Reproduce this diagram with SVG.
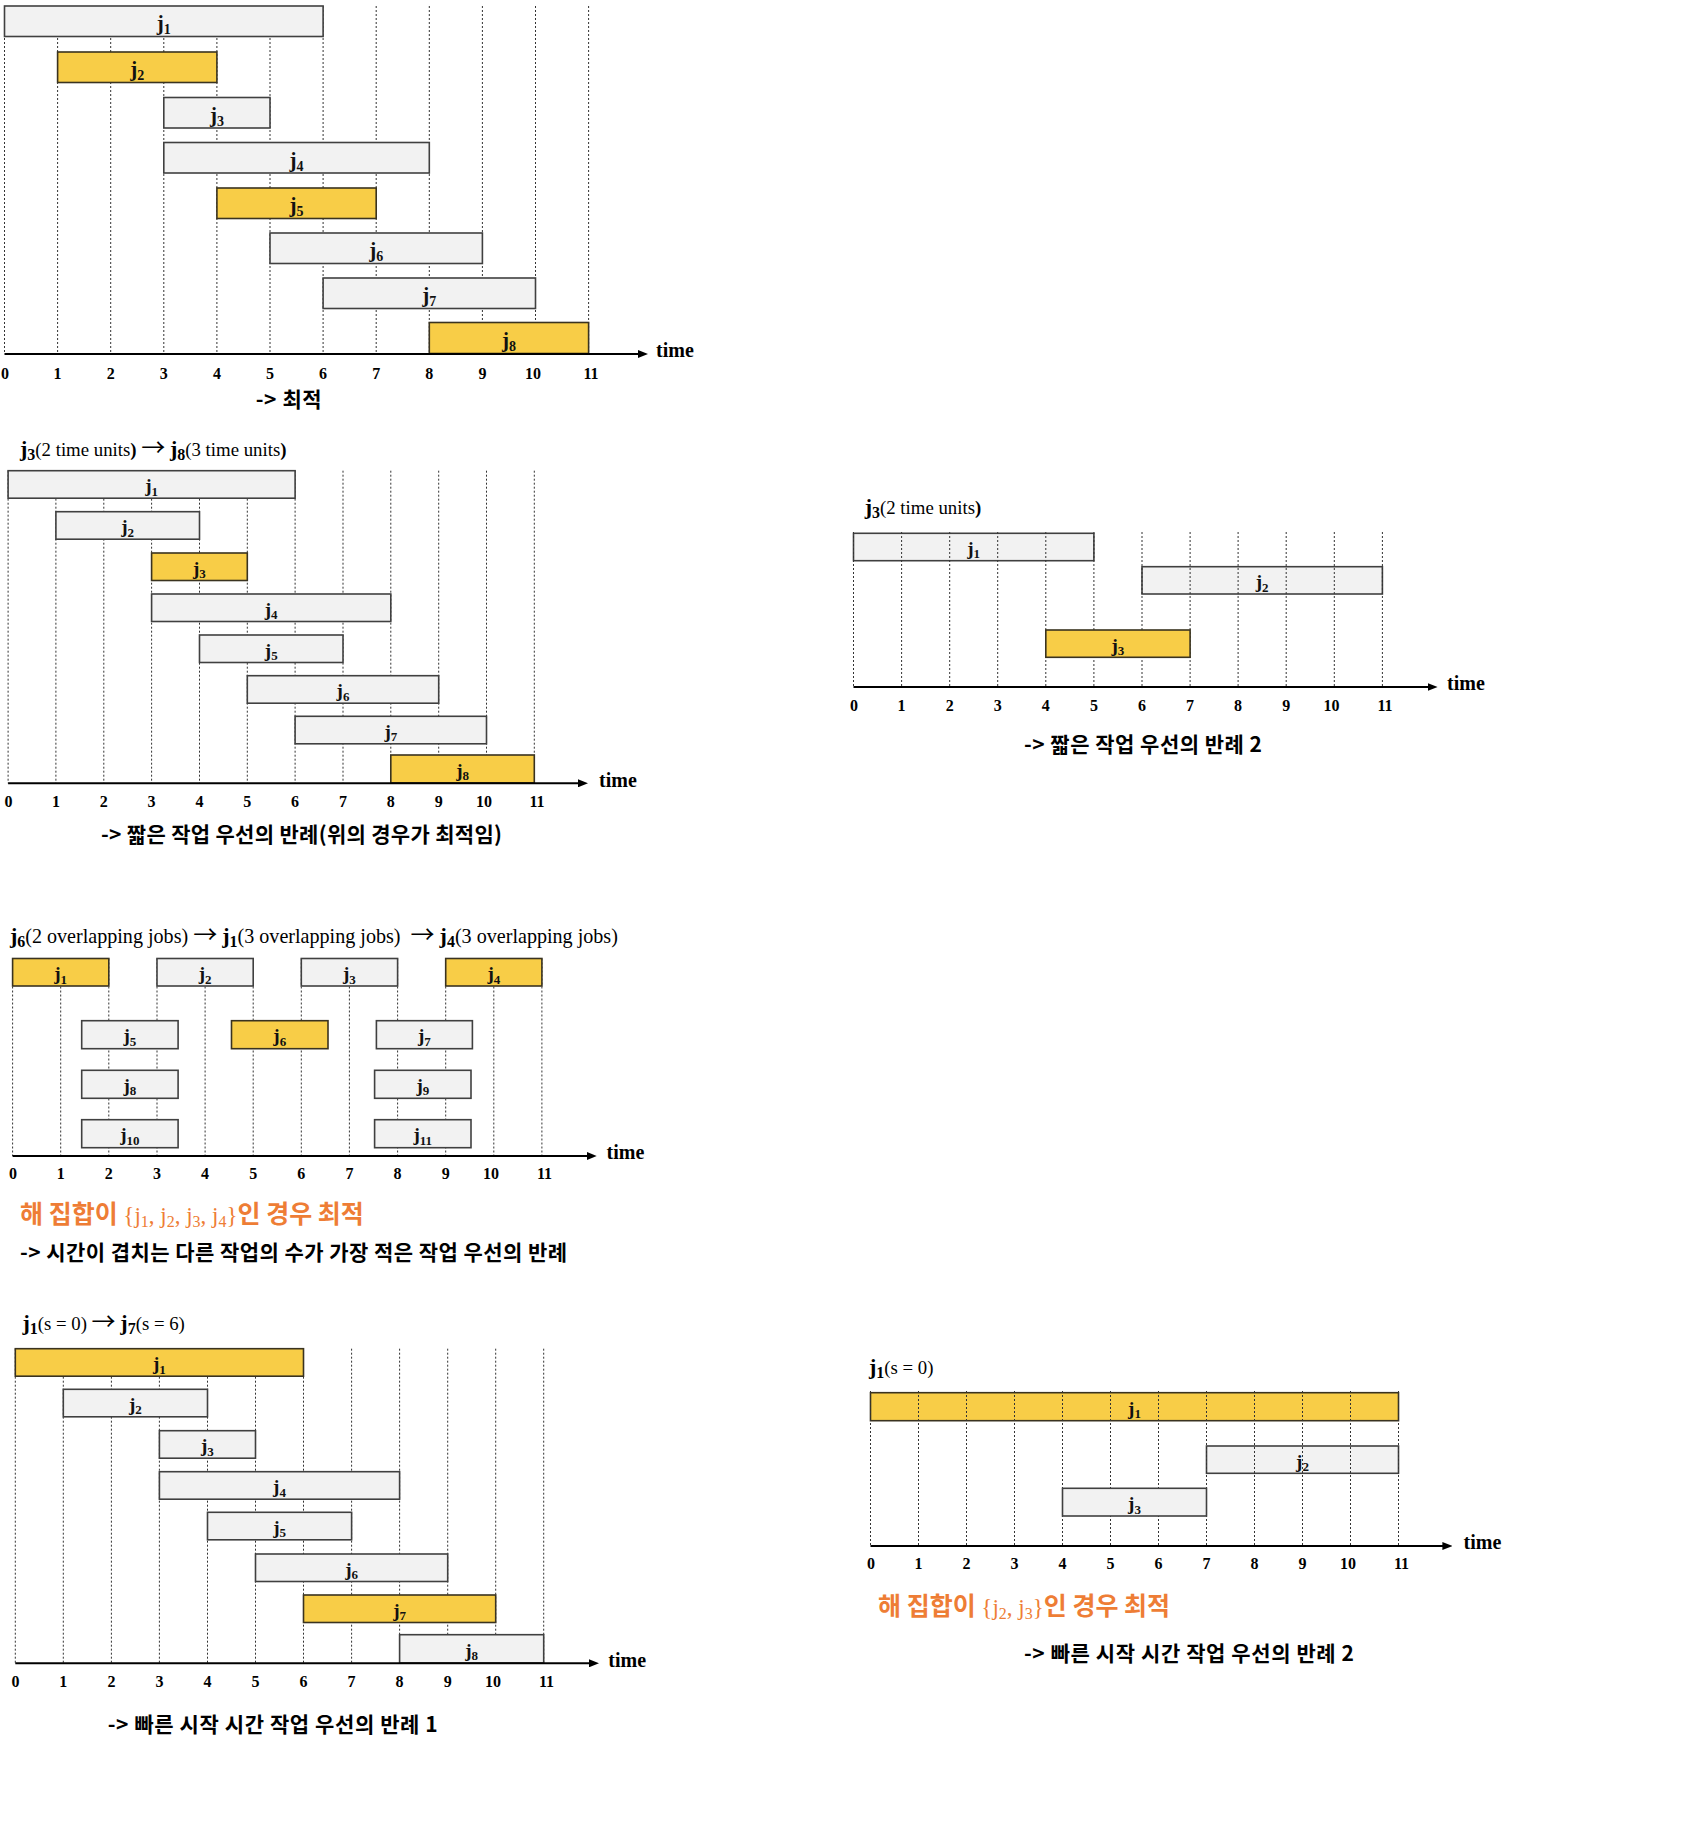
<svg xmlns="http://www.w3.org/2000/svg" width="1700" height="1848" viewBox="0 0 1700 1848">
<defs>
<marker id="arr" viewBox="0 0 10 8" refX="6" refY="4" markerWidth="10" markerHeight="8" markerUnits="userSpaceOnUse" orient="auto"><path d="M0,0 L10,4 L0,8 z" fill="#000"/></marker>
</defs>
<style>
.g{fill:#f2f2f2;stroke:#404040;stroke-width:1.6}
.y{fill:#f8cd47;stroke:#3a3320;stroke-width:1.6}
.grid line{stroke:#333;stroke-width:1;stroke-dasharray:2 2}
.axis{stroke:#000;stroke-width:2;marker-end:url(#arr)}
.jl{font-family:"Liberation Serif",serif;font-weight:bold;font-size:19px;text-anchor:middle;fill:#111}
.jl .s{font-size:13px}
.big{font-size:21px}
.big .s{font-size:14px}
.tk{font-family:"Liberation Serif",serif;font-weight:bold;font-size:16px;text-anchor:middle;fill:#000}
.time{font-family:"Liberation Serif",serif;font-weight:bold;font-size:20px;fill:#000}
.ttl{font-family:"Liberation Serif",serif;font-size:18.8px;fill:#000}
.ttl .b{font-weight:bold;font-size:22px}
.ttl .bs{font-weight:bold;font-size:16px}
.ttl .bp{font-weight:bold}
.ttl .ar{font-family:"Noto Sans CJK KR","DejaVu Sans",sans-serif;font-size:24px}
.ko{font-family:"Noto Sans CJK KR","Noto Sans",sans-serif;font-weight:bold;font-size:21px;fill:#000}
.or{fill:#ee7d35;font-size:25px}
.ser{font-family:"Liberation Serif",serif;font-weight:normal;font-size:23px}
.ser .ss{font-size:16px}
</style>
<rect width="1700" height="1848" fill="#fff"/>

<!-- Chart 1 -->
<g id="chart1">
<g class="grid">
<line x1="4.5" y1="6" x2="4.5" y2="354"/><line x1="57.6" y1="6" x2="57.6" y2="354"/><line x1="110.7" y1="6" x2="110.7" y2="354"/><line x1="163.8" y1="6" x2="163.8" y2="354"/><line x1="216.9" y1="6" x2="216.9" y2="354"/><line x1="270" y1="6" x2="270" y2="354"/><line x1="323.1" y1="6" x2="323.1" y2="354"/><line x1="376.2" y1="6" x2="376.2" y2="354"/><line x1="429.3" y1="6" x2="429.3" y2="354"/><line x1="482.4" y1="6" x2="482.4" y2="354"/><line x1="535.5" y1="6" x2="535.5" y2="354"/><line x1="588.6" y1="6" x2="588.6" y2="354"/>
</g>
<g id="c1-j1"><rect class="g" x="4.5" y="6" width="318.6" height="30.5"/><text class="jl big" x="163.8" y="30">j<tspan class="s" dy="4">1</tspan></text></g>
<g id="c1-j2"><rect class="y" x="57.6" y="52" width="159.3" height="30.5"/><text class="jl big" x="137.25" y="76">j<tspan class="s" dy="4">2</tspan></text></g>
<g id="c1-j3"><rect class="g" x="163.8" y="97.5" width="106.2" height="30.5"/><text class="jl big" x="216.9" y="121.5">j<tspan class="s" dy="4">3</tspan></text></g>
<g id="c1-j4"><rect class="g" x="163.8" y="142.5" width="265.5" height="30.5"/><text class="jl big" x="296.55" y="166.5">j<tspan class="s" dy="4">4</tspan></text></g>
<g id="c1-j5"><rect class="y" x="216.9" y="188" width="159.3" height="30.5"/><text class="jl big" x="296.55" y="212">j<tspan class="s" dy="4">5</tspan></text></g>
<g id="c1-j6"><rect class="g" x="270" y="233" width="212.4" height="30.5"/><text class="jl big" x="376.2" y="257">j<tspan class="s" dy="4">6</tspan></text></g>
<g id="c1-j7"><rect class="g" x="323.1" y="278" width="212.4" height="30.5"/><text class="jl big" x="429.3" y="302">j<tspan class="s" dy="4">7</tspan></text></g>
<g id="c1-j8"><rect class="y" x="429.3" y="322.5" width="159.3" height="31"/><text class="jl big" x="508.95" y="347">j<tspan class="s" dy="4">8</tspan></text></g>
<line class="axis" x1="4.5" y1="354" x2="644" y2="354"/>
<text class="time" x="656" y="357">time</text>
<g class="tk"><text x="5" y="379">0</text><text x="57.6" y="379">1</text><text x="110.7" y="379">2</text><text x="163.8" y="379">3</text><text x="216.9" y="379">4</text><text x="270" y="379">5</text><text x="323.1" y="379">6</text><text x="376.2" y="379">7</text><text x="429.3" y="379">8</text><text x="482.4" y="379">9</text><text x="533" y="379">10</text><text x="591" y="379">11</text></g>
<text class="ko" x="255.7" y="407" textLength="66" lengthAdjust="spacing">-&gt; 최적</text>
</g>

<!-- Chart 2 -->
<g id="chart2">
<text class="ttl" x="20" y="456"><tspan class="b">j</tspan><tspan class="bs" dy="4">3</tspan><tspan dy="-4">(2 time units</tspan><tspan class="bp">)</tspan> <tspan class="ar">→</tspan> <tspan class="b">j</tspan><tspan class="bs" dy="4">8</tspan><tspan dy="-4">(3 time units</tspan><tspan class="bp">)</tspan></text>
<g class="grid">
<line x1="8.1" y1="470.7" x2="8.1" y2="783.3"/><line x1="55.9" y1="470.7" x2="55.9" y2="783.3"/><line x1="103.8" y1="470.7" x2="103.8" y2="783.3"/><line x1="151.6" y1="470.7" x2="151.6" y2="783.3"/><line x1="199.5" y1="470.7" x2="199.5" y2="783.3"/><line x1="247.3" y1="470.7" x2="247.3" y2="783.3"/><line x1="295.1" y1="470.7" x2="295.1" y2="783.3"/><line x1="343" y1="470.7" x2="343" y2="783.3"/><line x1="390.8" y1="470.7" x2="390.8" y2="783.3"/><line x1="438.7" y1="470.7" x2="438.7" y2="783.3"/><line x1="486.5" y1="470.7" x2="486.5" y2="783.3"/><line x1="534.3" y1="470.7" x2="534.3" y2="783.3"/>
</g>
<g id="c2-j1"><rect class="g" x="8.1" y="470.7" width="287" height="27.5"/><text class="jl" x="151.6" y="492.2">j<tspan class="s" dy="3.5">1</tspan></text></g>
<g id="c2-j2"><rect class="g" x="55.9" y="511.7" width="143.6" height="27.5"/><text class="jl" x="127.7" y="533.2">j<tspan class="s" dy="3.5">2</tspan></text></g>
<g id="c2-j3"><rect class="y" x="151.6" y="553" width="95.7" height="27.5"/><text class="jl" x="199.45" y="574.5">j<tspan class="s" dy="3.5">3</tspan></text></g>
<g id="c2-j4"><rect class="g" x="151.6" y="594" width="239.2" height="27.5"/><text class="jl" x="271.2" y="615.5">j<tspan class="s" dy="3.5">4</tspan></text></g>
<g id="c2-j5"><rect class="g" x="199.5" y="635" width="143.5" height="27.5"/><text class="jl" x="271.25" y="656.5">j<tspan class="s" dy="3.5">5</tspan></text></g>
<g id="c2-j6"><rect class="g" x="247.3" y="675.7" width="191.4" height="27.5"/><text class="jl" x="343" y="697.2">j<tspan class="s" dy="3.5">6</tspan></text></g>
<g id="c2-j7"><rect class="g" x="295.1" y="716.3" width="191.4" height="27.5"/><text class="jl" x="390.8" y="737.8">j<tspan class="s" dy="3.5">7</tspan></text></g>
<g id="c2-j8"><rect class="y" x="390.8" y="755" width="143.5" height="28"/><text class="jl" x="462.55" y="776.5">j<tspan class="s" dy="3.5">8</tspan></text></g>
<line class="axis" x1="8.1" y1="783.3" x2="584" y2="783.3"/>
<text class="time" x="599" y="787">time</text>
<g class="tk"><text x="8.5" y="806.5">0</text><text x="55.9" y="806.5">1</text><text x="103.8" y="806.5">2</text><text x="151.6" y="806.5">3</text><text x="199.5" y="806.5">4</text><text x="247.3" y="806.5">5</text><text x="295.1" y="806.5">6</text><text x="343" y="806.5">7</text><text x="390.8" y="806.5">8</text><text x="438.7" y="806.5">9</text><text x="484" y="806.5">10</text><text x="537" y="806.5">11</text></g>
<text class="ko" x="101" y="842" textLength="401" lengthAdjust="spacing">-&gt; 짧은 작업 우선의 반례(위의 경우가 최적임)</text>
</g>

<!-- Chart 3 -->
<g id="chart3">
<text class="ttl" x="864.7" y="514"><tspan class="b">j</tspan><tspan class="bs" dy="4">3</tspan><tspan dy="-4">(2 time units</tspan><tspan class="bp">)</tspan></text>
<g id="c3-j1"><rect class="g" x="853.5" y="533.3" width="240.4" height="27.4"/><text class="jl" x="973.7" y="554.8">j<tspan class="s" dy="3.5">1</tspan></text></g>
<g id="c3-j2"><rect class="g" x="1142" y="566.7" width="240.4" height="27.3"/><text class="jl" x="1262.2" y="588.2">j<tspan class="s" dy="3.5">2</tspan></text></g>
<g class="grid">
<line x1="853.5" y1="532" x2="853.5" y2="687"/><line x1="901.6" y1="532" x2="901.6" y2="687"/><line x1="949.7" y1="532" x2="949.7" y2="687"/><line x1="997.7" y1="532" x2="997.7" y2="687"/><line x1="1045.8" y1="532" x2="1045.8" y2="687"/><line x1="1093.9" y1="532" x2="1093.9" y2="687"/><line x1="1142" y1="532" x2="1142" y2="687"/><line x1="1190.1" y1="532" x2="1190.1" y2="687"/><line x1="1238.1" y1="532" x2="1238.1" y2="687"/><line x1="1286.2" y1="532" x2="1286.2" y2="687"/><line x1="1334.3" y1="532" x2="1334.3" y2="687"/><line x1="1382.4" y1="532" x2="1382.4" y2="687"/>
</g>
<g id="c3-j3"><rect class="y" x="1045.8" y="630" width="144.3" height="27.3"/><text class="jl" x="1117.95" y="651.5">j<tspan class="s" dy="3.5">3</tspan></text></g>
<line class="axis" x1="853.5" y1="687" x2="1433.6" y2="687"/>
<text class="time" x="1447" y="690">time</text>
<g class="tk"><text x="854" y="710.5">0</text><text x="901.6" y="710.5">1</text><text x="949.7" y="710.5">2</text><text x="997.7" y="710.5">3</text><text x="1045.8" y="710.5">4</text><text x="1093.9" y="710.5">5</text><text x="1142" y="710.5">6</text><text x="1190.1" y="710.5">7</text><text x="1238.1" y="710.5">8</text><text x="1286.2" y="710.5">9</text><text x="1331.5" y="710.5">10</text><text x="1385" y="710.5">11</text></g>
<text class="ko" x="1024" y="752" textLength="238" lengthAdjust="spacing">-&gt; 짧은 작업 우선의 반례 2</text>
</g>

<!-- Chart 4 -->
<g id="chart4">
<text class="ttl" x="9.9" y="943" style="font-size:20.1px"><tspan class="b">j</tspan><tspan class="bs" dy="4">6</tspan><tspan dy="-4">(2 overlapping jobs) </tspan><tspan class="ar">→</tspan><tspan> </tspan><tspan class="b">j</tspan><tspan class="bs" dy="4">1</tspan><tspan dy="-4">(3 overlapping jobs)&#160; </tspan><tspan class="ar">→</tspan><tspan> </tspan><tspan class="b">j</tspan><tspan class="bs" dy="4">4</tspan><tspan dy="-4">(3 overlapping jobs)</tspan></text>
<g class="grid">
<line x1="12.6" y1="958.5" x2="12.6" y2="1156"/><line x1="60.7" y1="958.5" x2="60.7" y2="1156"/><line x1="108.8" y1="958.5" x2="108.8" y2="1156"/><line x1="157" y1="958.5" x2="157" y2="1156"/><line x1="205.1" y1="958.5" x2="205.1" y2="1156"/><line x1="253.2" y1="958.5" x2="253.2" y2="1156"/><line x1="301.3" y1="958.5" x2="301.3" y2="1156"/><line x1="349.4" y1="958.5" x2="349.4" y2="1156"/><line x1="397.6" y1="958.5" x2="397.6" y2="1156"/><line x1="445.7" y1="958.5" x2="445.7" y2="1156"/><line x1="493.8" y1="958.5" x2="493.8" y2="1156"/><line x1="541.9" y1="958.5" x2="541.9" y2="1156"/>
</g>
<g id="c4-j1"><rect class="y" x="12.6" y="958.5" width="96.2" height="27.5"/><text class="jl" x="60.7" y="980">j<tspan class="s" dy="3.5">1</tspan></text></g>
<g id="c4-j2"><rect class="g" x="157" y="958.5" width="96.2" height="27.5"/><text class="jl" x="205.1" y="980">j<tspan class="s" dy="3.5">2</tspan></text></g>
<g id="c4-j3"><rect class="g" x="301.3" y="958.5" width="96.3" height="27.5"/><text class="jl" x="349.45" y="980">j<tspan class="s" dy="3.5">3</tspan></text></g>
<g id="c4-j4"><rect class="y" x="445.7" y="958.5" width="96.2" height="27.5"/><text class="jl" x="493.8" y="980">j<tspan class="s" dy="3.5">4</tspan></text></g>
<g id="c4-j5"><rect class="g" x="81.7" y="1020.7" width="96.4" height="28"/><text class="jl" x="129.9" y="1042.2">j<tspan class="s" dy="3.5">5</tspan></text></g>
<g id="c4-j6"><rect class="y" x="231.5" y="1020.7" width="96.5" height="28"/><text class="jl" x="279.75" y="1042.2">j<tspan class="s" dy="3.5">6</tspan></text></g>
<g id="c4-j7"><rect class="g" x="376.4" y="1020.7" width="96" height="28"/><text class="jl" x="424.4" y="1042.2">j<tspan class="s" dy="3.5">7</tspan></text></g>
<g id="c4-j8"><rect class="g" x="81.7" y="1070.3" width="96.4" height="28"/><text class="jl" x="129.9" y="1091.8">j<tspan class="s" dy="3.5">8</tspan></text></g>
<g id="c4-j9"><rect class="g" x="374.6" y="1070.3" width="96.4" height="28"/><text class="jl" x="422.8" y="1091.8">j<tspan class="s" dy="3.5">9</tspan></text></g>
<g id="c4-j10"><rect class="g" x="81.7" y="1119.7" width="96.4" height="28"/><text class="jl" x="129.9" y="1141.2">j<tspan class="s" dy="3.5">10</tspan></text></g>
<g id="c4-j11"><rect class="g" x="374.6" y="1119.7" width="96.4" height="28"/><text class="jl" x="422.8" y="1141.2">j<tspan class="s" dy="3.5">11</tspan></text></g>
<line class="axis" x1="12.6" y1="1156" x2="592.7" y2="1156"/>
<text class="time" x="606.5" y="1159">time</text>
<g class="tk"><text x="13" y="1179">0</text><text x="60.7" y="1179">1</text><text x="108.8" y="1179">2</text><text x="157" y="1179">3</text><text x="205.1" y="1179">4</text><text x="253.2" y="1179">5</text><text x="301.3" y="1179">6</text><text x="349.4" y="1179">7</text><text x="397.6" y="1179">8</text><text x="445.7" y="1179">9</text><text x="491" y="1179">10</text><text x="544.5" y="1179">11</text></g>
<text class="ko or" x="20" y="1223">해 집합이 <tspan class="ser">{j<tspan class="ss" dy="4">1</tspan><tspan dy="-4">, j</tspan><tspan class="ss" dy="4">2</tspan><tspan dy="-4">, j</tspan><tspan class="ss" dy="4">3</tspan><tspan dy="-4">, j</tspan><tspan class="ss" dy="4">4</tspan><tspan dy="-4">}</tspan></tspan>인 경우 최적</text>
<text class="ko" x="20" y="1260" textLength="547" lengthAdjust="spacing">-&gt; 시간이 겹치는 다른 작업의 수가 가장 적은 작업 우선의 반례</text>
</g>

<!-- Chart 5 -->
<g id="chart5">
<text class="ttl" x="22.4" y="1330"><tspan class="b">j</tspan><tspan class="bs" dy="4">1</tspan><tspan dy="-4">(s = 0) </tspan><tspan class="ar">→</tspan><tspan> </tspan><tspan class="b">j</tspan><tspan class="bs" dy="4">7</tspan><tspan dy="-4">(s = 6)</tspan></text>
<g class="grid">
<line x1="15.3" y1="1348.7" x2="15.3" y2="1663.3"/><line x1="63.3" y1="1348.7" x2="63.3" y2="1663.3"/><line x1="111.4" y1="1348.7" x2="111.4" y2="1663.3"/><line x1="159.4" y1="1348.7" x2="159.4" y2="1663.3"/><line x1="207.5" y1="1348.7" x2="207.5" y2="1663.3"/><line x1="255.5" y1="1348.7" x2="255.5" y2="1663.3"/><line x1="303.5" y1="1348.7" x2="303.5" y2="1663.3"/><line x1="351.6" y1="1348.7" x2="351.6" y2="1663.3"/><line x1="399.6" y1="1348.7" x2="399.6" y2="1663.3"/><line x1="447.7" y1="1348.7" x2="447.7" y2="1663.3"/><line x1="495.7" y1="1348.7" x2="495.7" y2="1663.3"/><line x1="543.7" y1="1348.7" x2="543.7" y2="1663.3"/>
</g>
<g id="c5-j1"><rect class="y" x="15.3" y="1348.7" width="288.2" height="27.5"/><text class="jl" x="159.4" y="1370.2">j<tspan class="s" dy="3.5">1</tspan></text></g>
<g id="c5-j2"><rect class="g" x="63.3" y="1389.3" width="144.2" height="27.5"/><text class="jl" x="135.4" y="1410.8">j<tspan class="s" dy="3.5">2</tspan></text></g>
<g id="c5-j3"><rect class="g" x="159.4" y="1430.7" width="96.1" height="27.5"/><text class="jl" x="207.45" y="1452.2">j<tspan class="s" dy="3.5">3</tspan></text></g>
<g id="c5-j4"><rect class="g" x="159.4" y="1471.7" width="240.2" height="27.5"/><text class="jl" x="279.5" y="1493.2">j<tspan class="s" dy="3.5">4</tspan></text></g>
<g id="c5-j5"><rect class="g" x="207.5" y="1512.3" width="144.1" height="27.5"/><text class="jl" x="279.55" y="1533.8">j<tspan class="s" dy="3.5">5</tspan></text></g>
<g id="c5-j6"><rect class="g" x="255.5" y="1554" width="192.2" height="27.5"/><text class="jl" x="351.6" y="1575.5">j<tspan class="s" dy="3.5">6</tspan></text></g>
<g id="c5-j7"><rect class="y" x="303.5" y="1595" width="192.2" height="27.5"/><text class="jl" x="399.6" y="1616.5">j<tspan class="s" dy="3.5">7</tspan></text></g>
<g id="c5-j8"><rect class="g" x="399.6" y="1634.7" width="144.1" height="28.3"/><text class="jl" x="471.65" y="1656.5">j<tspan class="s" dy="3.5">8</tspan></text></g>
<line class="axis" x1="15.3" y1="1663.3" x2="595" y2="1663.3"/>
<text class="time" x="608.3" y="1667">time</text>
<g class="tk"><text x="15.5" y="1686.5">0</text><text x="63.3" y="1686.5">1</text><text x="111.4" y="1686.5">2</text><text x="159.4" y="1686.5">3</text><text x="207.5" y="1686.5">4</text><text x="255.5" y="1686.5">5</text><text x="303.5" y="1686.5">6</text><text x="351.6" y="1686.5">7</text><text x="399.6" y="1686.5">8</text><text x="447.7" y="1686.5">9</text><text x="493" y="1686.5">10</text><text x="546.5" y="1686.5">11</text></g>
<text class="ko" x="107.7" y="1732" textLength="330" lengthAdjust="spacing">-&gt; 빠른 시작 시간 작업 우선의 반례 1</text>
</g>

<!-- Chart 6 -->
<g id="chart6">
<text class="ttl" x="869" y="1374"><tspan class="b">j</tspan><tspan class="bs" dy="4">1</tspan><tspan dy="-4">(s = 0)</tspan></text>
<g id="c6-j1"><rect class="y" x="870.5" y="1392.7" width="528" height="28"/><text class="jl" x="1134.5" y="1414.5">j<tspan class="s" dy="3.5">1</tspan></text></g>
<g id="c6-j2"><rect class="g" x="1206.5" y="1446" width="192" height="27.3"/><text class="jl" x="1302.5" y="1467.5">j<tspan class="s" dy="3.5">2</tspan></text></g>
<g class="grid">
<line x1="870.5" y1="1391" x2="870.5" y2="1546"/><line x1="918.5" y1="1391" x2="918.5" y2="1546"/><line x1="966.5" y1="1391" x2="966.5" y2="1546"/><line x1="1014.5" y1="1391" x2="1014.5" y2="1546"/><line x1="1062.5" y1="1391" x2="1062.5" y2="1546"/><line x1="1110.5" y1="1391" x2="1110.5" y2="1546"/><line x1="1158.5" y1="1391" x2="1158.5" y2="1546"/><line x1="1206.5" y1="1391" x2="1206.5" y2="1546"/><line x1="1254.5" y1="1391" x2="1254.5" y2="1546"/><line x1="1302.5" y1="1391" x2="1302.5" y2="1546"/><line x1="1350.5" y1="1391" x2="1350.5" y2="1546"/><line x1="1398.5" y1="1391" x2="1398.5" y2="1546"/>
</g>
<g id="c6-j3"><rect class="g" x="1062.5" y="1488.3" width="144" height="27.7"/><text class="jl" x="1134.5" y="1510">j<tspan class="s" dy="3.5">3</tspan></text></g>
<line class="axis" x1="870.5" y1="1546" x2="1448.4" y2="1546"/>
<text class="time" x="1463.6" y="1549">time</text>
<g class="tk"><text x="871" y="1569">0</text><text x="918.5" y="1569">1</text><text x="966.5" y="1569">2</text><text x="1014.5" y="1569">3</text><text x="1062.5" y="1569">4</text><text x="1110.5" y="1569">5</text><text x="1158.5" y="1569">6</text><text x="1206.5" y="1569">7</text><text x="1254.5" y="1569">8</text><text x="1302.5" y="1569">9</text><text x="1348" y="1569">10</text><text x="1401.5" y="1569">11</text></g>
<text class="ko or" x="878" y="1615">해 집합이 <tspan class="ser">{j<tspan class="ss" dy="4">2</tspan><tspan dy="-4">, j</tspan><tspan class="ss" dy="4">3</tspan><tspan dy="-4">}</tspan></tspan>인 경우 최적</text>
<text class="ko" x="1024" y="1661" textLength="330" lengthAdjust="spacing">-&gt; 빠른 시작 시간 작업 우선의 반례 2</text>
</g>
</svg>
